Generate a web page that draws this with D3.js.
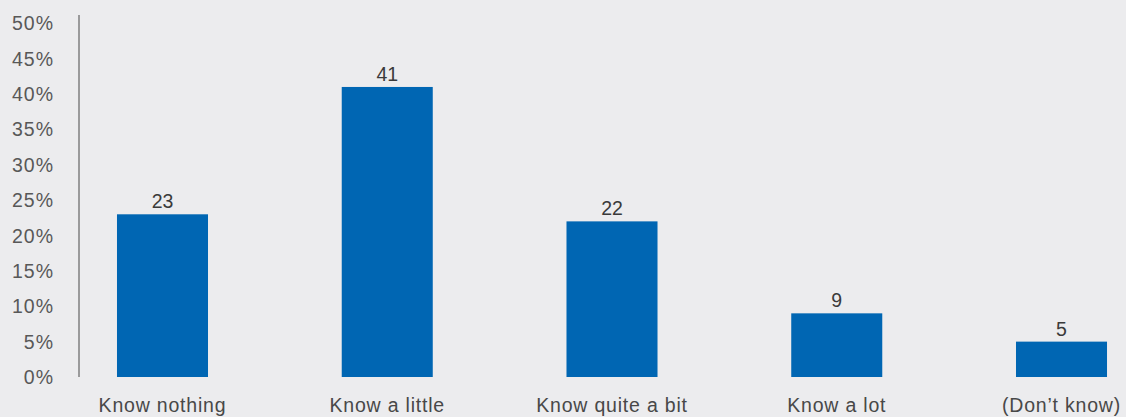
<!DOCTYPE html>
<html>
<head>
<meta charset="utf-8">
<script src="https://cdn.jsdelivr.net/npm/d3@7"></script>
<style>
  html, body { margin: 0; padding: 0; background: #ececee; }
  svg { display: block; font-family: "Liberation Sans", Arial, sans-serif; }
</style>
</head>
<body>
<svg id="chart" width="1126" height="417"></svg>
<script>
// Survey responses: share of respondents by self-reported knowledge
const categories = ["Know nothing", "Know a little", "Know quite a bit", "Know a lot", "(Don\u2019t know)"];
const values = [23, 41, 22, 9, 5];
const yTicks = [0, 5, 10, 15, 20, 25, 30, 35, 40, 45, 50];

const svg = d3.select("#chart");
const axisX = 79;

const x = d3.scaleBand()
  .domain(categories)
  .range([axisX, 1145])
  .paddingInner(0.595)
  .paddingOuter(0.169);

const y = d3.scaleLinear()
  .domain([0, 50])
  .range([377, 23.3]);

// Vertical axis line
svg.append("line")
  .attr("x1", axisX).attr("x2", axisX)
  .attr("y1", 15).attr("y2", y(0))
  .attr("stroke", "#7f7f7f")
  .attr("stroke-width", 1.5);

// Percentage tick labels
svg.append("g")
  .selectAll("text")
  .data(yTicks)
  .join("text")
  .attr("x", 54)
  .attr("y", d => y(d))
  .attr("dy", "0.36em")
  .attr("text-anchor", "end")
  .attr("font-size", 19.5)
  .attr("letter-spacing", 1)
  .attr("fill", "#585858")
  .text(d => d + "%");

// Bars
svg.append("g")
  .selectAll("rect")
  .data(values)
  .join("rect")
  .attr("x", (d, i) => x(categories[i]))
  .attr("y", d => y(d))
  .attr("width", x.bandwidth())
  .attr("height", d => y(0) - y(d))
  .attr("fill", "#0066b3");

// Value labels above bars
svg.append("g")
  .selectAll("text")
  .data(values)
  .join("text")
  .attr("x", (d, i) => x(categories[i]) + x.bandwidth() / 2)
  .attr("y", d => y(d) - 6)
  .attr("text-anchor", "middle")
  .attr("font-size", 19.5)
  .attr("fill", "#3a3a3a")
  .text(d => d);

// Category labels
svg.append("g")
  .selectAll("text")
  .data(categories)
  .join("text")
  .attr("x", d => x(d) + x.bandwidth() / 2)
  .attr("y", 412)
  .attr("text-anchor", "middle")
  .attr("font-size", 19.5)
  .attr("letter-spacing", 0.8)
  .attr("fill", "#484848")
  .text(d => d);
</script>
</body>
</html>
